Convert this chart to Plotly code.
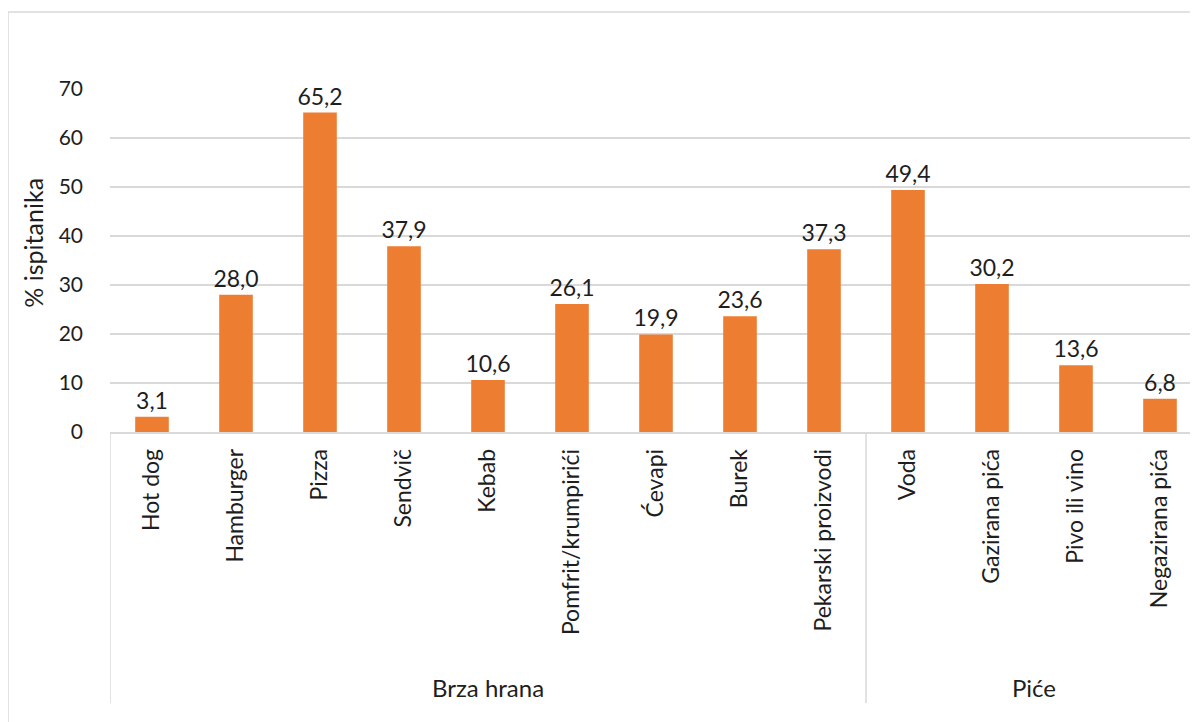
import plotly.graph_objects as go

categories = ["Hot dog", "Hamburger", "Pizza", "Sendvič", "Kebab", "Pomfrit/krumpirići",
              "Ćevapi", "Burek", "Pekarski proizvodi", "Voda", "Gazirana pića",
              "Pivo ili vino", "Negazirana pića"]
groups = ["Brza hrana"] * 9 + ["Piće"] * 4
values = [3.1, 28.0, 65.2, 37.9, 10.6, 26.1, 19.9, 23.6, 37.3, 49.4, 30.2, 13.6, 6.8]
y_ticks = [0, 10, 20, 30, 40, 50, 60, 70]
y_title = "% ispitanika"

FONT = "Lato"
TXT = "#1e1e1e"
GRID = "#d9d9d9"

xs = list(range(len(categories)))
labels = [f"{v:.1f}".replace(".", ",") for v in values]

fig = go.Figure()
fig.add_trace(go.Bar(
    x=xs, y=values, marker=dict(color="#ED7D31", line=dict(width=0)),
    width=0.4, text=labels, textposition="outside", cliponaxis=False,
    constraintext="none",
    textfont=dict(family=FONT, size=23, color=TXT),
))

# group spans
group_names = []
spans = {}
for i, g in enumerate(groups):
    if g not in spans:
        spans[g] = [i, i]
        group_names.append(g)
    else:
        spans[g][1] = i

shapes = []
annotations = []
boundaries = sorted({spans[g][0] - 0.5 for g in group_names} | {spans[g][1] + 0.5 for g in group_names})
for b in boundaries:
    shapes.append(dict(type="line", xref="x", yref="paper", x0=b, x1=b, y0=0, y1=-0.79,
                       line=dict(color=GRID, width=1.5)))
for g in group_names:
    a, b = spans[g]
    annotations.append(dict(x=(a + b) / 2, y=-0.746, xref="x", yref="paper", text=g,
                            showarrow=False, font=dict(family=FONT, size=24, color=TXT),
                            yanchor="middle"))

annotations.append(dict(x=-0.0705, y=0.552, xref="paper", yref="paper", text=y_title,
                        textangle=-90, showarrow=False, xanchor="center", yanchor="middle",
                        font=dict(family=FONT, size=25, color=TXT)))

# chart border (left and top)
shapes.append(dict(type="line", xref="paper", yref="paper", x0=-0.0934, x1=-0.0934, y0=-0.9, y1=1.2245,
                   line=dict(color=GRID, width=1.5)))
shapes.append(dict(type="line", xref="paper", yref="paper", x0=-0.0934, x1=1.05, y0=1.2245, y1=1.2245,
                   line=dict(color=GRID, width=1.5)))

fig.update_layout(
    width=1198, height=722,
    margin=dict(l=102, r=4, t=81, b=298),
    plot_bgcolor="white", paper_bgcolor="white",
    showlegend=False,
    shapes=shapes, annotations=annotations,
    font=dict(family=FONT, color=TXT),
    xaxis=dict(
        tickmode="array", tickvals=xs, ticktext=categories, tickangle=-90,
        range=[-0.5, len(categories) - 0.5], showgrid=False, zeroline=False,
        showline=True, linecolor=GRID, linewidth=1.5,
        tickfont=dict(family=FONT, size=23, color=TXT), ticks="", ticklabelstandoff=6,
    ),
    yaxis=dict(
        range=[0, 70], tickmode="array", tickvals=y_ticks, showgrid=True, gridcolor=GRID,
        gridwidth=1.5, zeroline=False, showline=False,
        tickfont=dict(family=FONT, size=21, color=TXT), ticks="", ticklabelstandoff=26,
    ),
)

fig.write_html("out.html")
